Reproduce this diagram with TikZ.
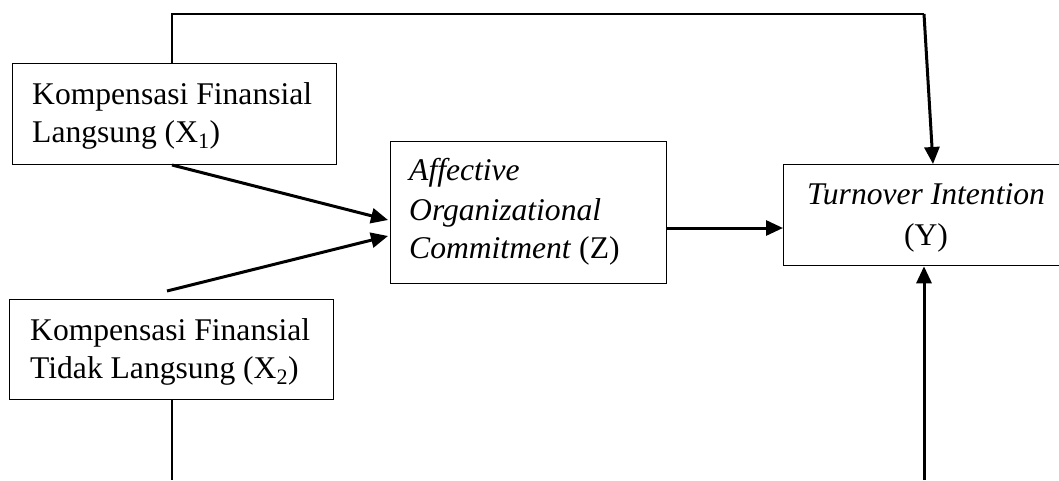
\documentclass[tikz,border=0pt]{standalone}
\usepackage{fontspec}
\setmainfont{Liberation Serif}
\usetikzlibrary{arrows.meta}
\begin{document}
\begin{tikzpicture}[x=1pt,y=-1pt,
  box/.style={draw, line width=1.3pt, inner sep=0pt, anchor=north west},
  txt/.style={anchor=base west, inner sep=0pt, font=\fontsize{31.6}{37}\selectfont},
  ctxt/.style={anchor=base, inner sep=0pt, font=\fontsize{31.6}{37}\selectfont},
  thinline/.style={line width=1.3pt},
  thickarrow/.style={line width=3pt, -{Triangle[length=17pt,width=15pt]}}]
\useasboundingbox (0,0) rectangle (1059,480);
\clip (0,0) rectangle (1059,480);
% boxes
\node[box, minimum width=324pt, minimum height=101pt] (X1) at (12,63) {};
\node[box, minimum width=324pt, minimum height=100pt] (X2) at (9,299) {};
\node[box, minimum width=276pt, minimum height=142pt] (Z) at (390,141) {};
\node[box, minimum width=290pt, minimum height=101pt] (Y) at (783,164) {};
% texts
\node[txt] (x1a) at (32,104) {Kompensasi Finansial};
\node[txt] (x1b) at (32,142) {Langsung (X\textsubscript{1})};
\node[txt] (x2a) at (30,340) {Kompensasi Finansial};
\node[txt] (x2b) at (30,378) {Tidak Langsung (X\textsubscript{2})};
\node[txt] (za) at (409,180) {\textit{Affective}};
\node[txt] (zb) at (409,220) {\textit{Organizational}};
\node[txt] (zc) at (409,258) {\textit{Commitment} (Z)};
\node[ctxt] (ya) at (926,204) {\textit{Turnover Intention}};
\node[ctxt] (yb) at (926,245) {(Y)};
% helper coordinates
\coordinate (c1) at (172,14);
\coordinate (c2) at (924,14);
\coordinate (yt) at (933,0);
\coordinate (s1) at (172,165);
\coordinate (e1) at (388,220);
\coordinate (s2) at (167,291);
\coordinate (e2) at (388,236);
\coordinate (zy) at (0,228);
\coordinate (bx) at (172,480);
\coordinate (by) at (924,480);
% connectors
\draw[thinline] (X1.north -| c1) -- (c1) -- (c2);
\draw[thickarrow] (c2) -- (Y.north -| yt);
\draw[thickarrow] (s1) -- (e1);
\draw[thickarrow] (s2) -- (e2);
\draw[thickarrow] (Z.east |- zy) -- (Y.west |- zy);
\draw[thinline] (X2.south -| bx) -- (bx);
\draw[thickarrow] (by) -- (Y.south -| by);
\end{tikzpicture}
\end{document}
